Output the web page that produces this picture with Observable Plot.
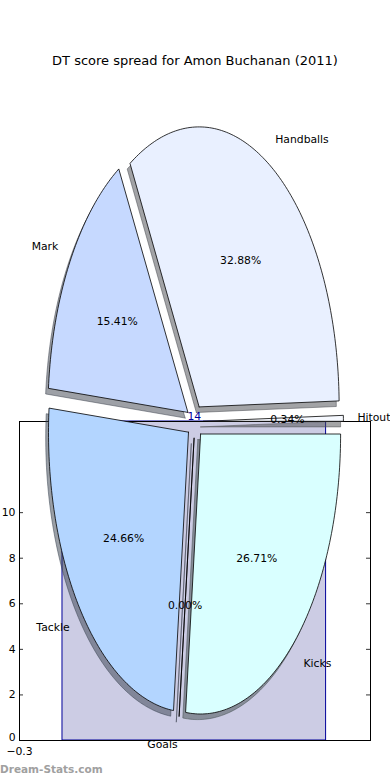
<!DOCTYPE html>
<html>
<head>
<meta charset="utf-8">
<script src="https://cdn.jsdelivr.net/npm/d3@7"></script>
<script src="https://cdn.jsdelivr.net/npm/@observablehq/plot@0.6"></script>
<style>
  body { margin: 0; background: #fff; font-family: "DejaVu Sans", sans-serif; }
  #wrap { position: relative; width: 390px; height: 780px; overflow: hidden; background: #fff; }
  #wrap svg { position: absolute; left: 0; top: 0; background: transparent; }
  #title { position: absolute; left: 0; top: 53px; width: 390px; text-align: center;
           font-size: 13px; line-height: 16px; color: #000; }
  #credit { position: absolute; left: 0; top: 762px; font-size: 10.5px; font-weight: bold;
            color: #a0a0a0; line-height: 14px; }
</style>
</head>
<body>
<div id="wrap"></div>
<script>
// ---- data ----
const categories = ["Hitout", "Handballs", "Mark", "Tackle", "Goals", "Kicks"];
const shares = [0.34, 32.88, 15.41, 24.66, 0.00, 26.71];
const percentLabels = ["0.34%", "32.88%", "15.41%", "24.66%", "0.00%", "26.71%"];
const sliceColors = ["#f6f9ff", "#e9f0ff", "#c6d9ff", "#b3d5ff", "#c8d8ff", "#d9ffff"];
const explode = [0.06, 0.06, 0.06, 0.06, 0.06, 0.06];

const barStart = [0];
const barEnd = [1.84];
const barValues = [14];
const barLabels = ["14"];
const yTicks = [0, 2, 4, 6, 8, 10];
const xTicks = [-0.3];

// ---- layout constants ----
const W = 390, H = 780;
const font = "DejaVu Sans";

// ---- background bar chart ----
const bars = barStart.map((s, i) => ({x1: s, x2: barEnd[i], v: barValues[i], label: barLabels[i]}));
const frameW = W - 19 - 20;
const barScales = {
  width: W, height: H,
  marginTop: 421, marginBottom: 40, marginLeft: 19, marginRight: 20,
  style: {fontFamily: font, fontSize: "10.8px", background: "transparent", overflow: "visible"},
  x: {domain: [-0.3, 2.15]},
  y: {domain: [0, 14]}
};
const barPlot = Plot.plot({
  ...barScales,
  marks: [
    Plot.rect(bars, {x1: "x1", x2: "x2", y1: () => 0, y2: "v", fill: "#ccccE4", stroke: "#00009a", strokeWidth: 1}),
    Plot.tickY(yTicks, {y: d => d, insetRight: frameW - 4, stroke: "#000", strokeWidth: 0.8}),
    Plot.tickY(yTicks, {y: d => d, insetLeft: frameW - 4, stroke: "#000", strokeWidth: 0.8}),
    Plot.frame({stroke: "#000", strokeWidth: 1}),
    Plot.axisY({ticks: yTicks.filter(t => t !== 0), tickSize: 0, tickPadding: 4, label: null, fontSize: 10.8}),
    Plot.axisY({ticks: yTicks.filter(t => t === 0), tickSize: 0, tickPadding: 4, label: null, fontSize: 10.8, dy: -3}),
    Plot.axisX({ticks: xTicks, tickSize: 0, tickPadding: 7, label: null, fontSize: 10.8,
                tickFormat: d => d < 0 ? "\u2212" + Math.abs(d) : String(d)})
  ]
});
// value label layer (drawn above the pie, same scales)
const barLabelPlot = Plot.plot({
  ...barScales,
  axis: null,
  marks: [
    Plot.text(bars, {x: d => (d.x1 + d.x2) / 2, y: "v", text: "label", lineAnchor: "bottom", dy: -2, fill: "#00009a", fontSize: 10.8})
  ]
});

// ---- pie ----
const cx = 194.5, cy = 421, rx = 140, ry = 280;
const total = d3.sum(shares);
let cum = 0;
const slices = shares.map((s, i) => {
  const t1 = 360 * cum / total;
  cum += s;
  const t2 = 360 * cum / total;
  const tm = (t1 + t2) / 2 * Math.PI / 180;
  const ox = explode[i] * Math.cos(tm), oy = explode[i] * Math.sin(tm);
  return {i, name: categories[i], pct: percentLabels[i], color: sliceColors[i], t1, t2, tm, ox, oy};
});

function wedgePoints(sl, dx, dy) {
  const pts = [{u: sl.ox + dx, v: sl.oy + dy}];
  const n = Math.max(1, Math.ceil((sl.t2 - sl.t1) / 1));
  for (let k = 0; k <= n; k++) {
    const t = (sl.t1 + (sl.t2 - sl.t1) * k / n) * Math.PI / 180;
    pts.push({u: sl.ox + dx + Math.cos(t), v: sl.oy + dy + Math.sin(t)});
  }
  pts.push({u: sl.ox + dx, v: sl.oy + dy});
  return pts;
}

function shadowColor(c) {
  const r = d3.rgb(c);
  return d3.rgb(r.r * 0.3, r.g * 0.3, r.b * 0.3).formatHex();
}

const shadowMarks = slices.map(sl => Plot.line(wedgePoints(sl, -0.02, -0.02), {
  x: "u", y: "v", curve: "linear",
  fill: shadowColor(sl.color), fillOpacity: 0.5,
  stroke: shadowColor(sl.color), strokeOpacity: 0.5, strokeWidth: 1
}));
const wedgeMarks = slices.map(sl => Plot.line(wedgePoints(sl, 0, 0), {
  x: "u", y: "v", curve: "linear",
  fill: sl.color, stroke: "#000", strokeWidth: 0.8, strokeLinejoin: "miter", strokeMiterlimit: 4
}));

const nameRight = slices.filter(sl => Math.cos(sl.tm) >= 0);
const nameLeft = slices.filter(sl => Math.cos(sl.tm) < 0);
const lblPos = (sl, dist) => ({x: sl.ox + dist * Math.cos(sl.tm), y: sl.oy + dist * Math.sin(sl.tm)});

const piePlot = Plot.plot({
  width: W, height: H,
  margin: 0,
  style: {fontFamily: font, fontSize: "10.8px", background: "transparent", overflow: "visible"},
  x: {domain: [-cx / rx, (W - cx) / rx], range: [0, W], axis: null},
  y: {domain: [(cy - H) / ry, cy / ry], range: [H, 0], axis: null},
  marks: [
    ...shadowMarks,
    ...wedgeMarks,
    Plot.text(nameRight, {x: d => lblPos(d, 1.1).x, y: d => lblPos(d, 1.1).y, text: "name", textAnchor: "start", lineAnchor: "middle", fill: "#000", fontSize: 10.8}),
    Plot.text(nameLeft, {x: d => lblPos(d, 1.1).x, y: d => lblPos(d, 1.1).y, text: "name", textAnchor: "end", lineAnchor: "middle", fill: "#000", fontSize: 10.8}),
    Plot.text(slices, {x: d => lblPos(d, 0.6).x, y: d => lblPos(d, 0.6).y, text: "pct", textAnchor: "middle", lineAnchor: "middle", fill: "#000", fontSize: 10.8})
  ]
});

const wrap = document.getElementById("wrap");
wrap.appendChild(barPlot);
wrap.appendChild(piePlot);
wrap.appendChild(barLabelPlot);
const title = document.createElement("div");
title.id = "title";
title.textContent = "DT score spread for Amon Buchanan (2011)";
wrap.appendChild(title);
const credit = document.createElement("div");
credit.id = "credit";
credit.textContent = "Dream-Stats.com";
wrap.appendChild(credit);
</script>
</body>
</html>
